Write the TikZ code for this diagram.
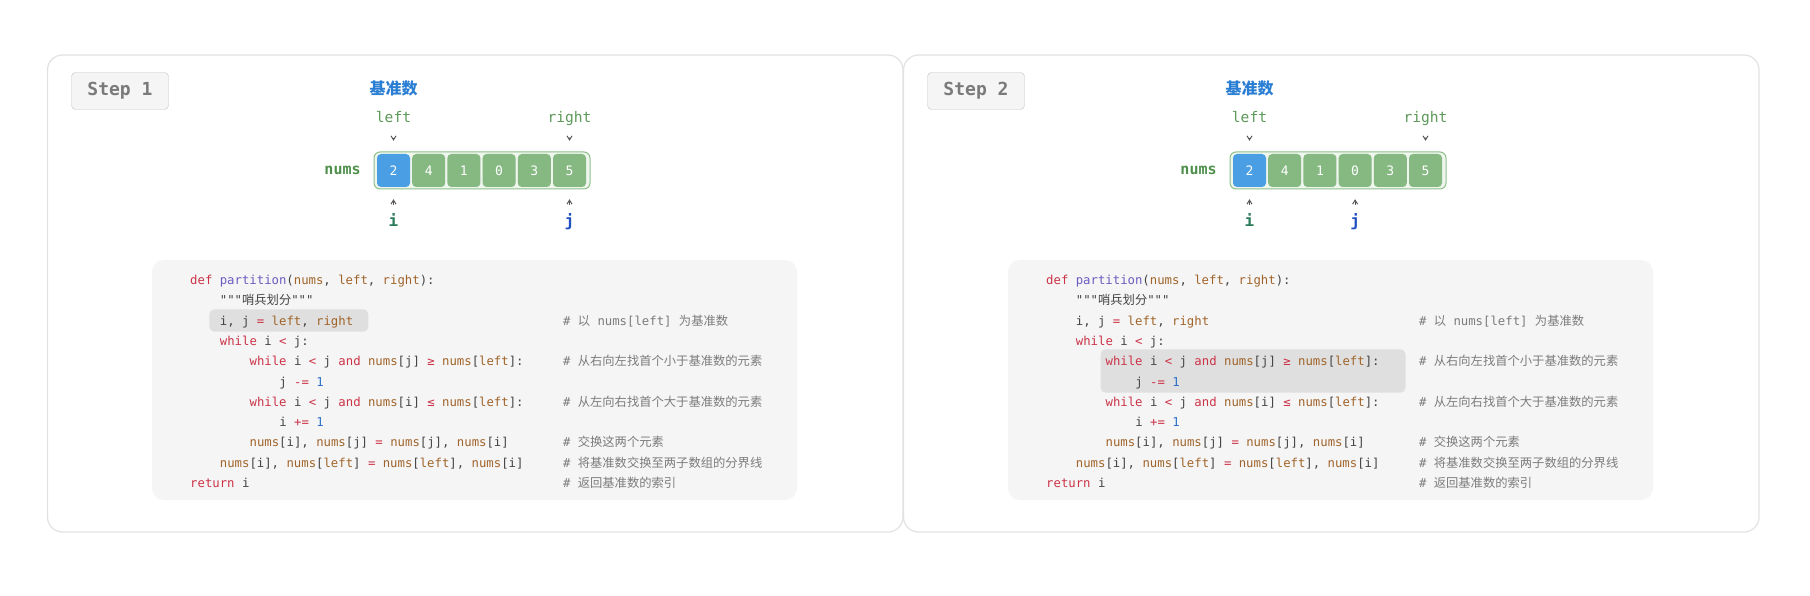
\documentclass[tikz,border=0pt]{standalone}
\usepackage{fontspec}
\setmonofont{DejaVu Sans Mono}
\newfontfamily\cjk{Noto Sans CJK SC}
\usetikzlibrary{arrows.meta, positioning}

\definecolor{panelline}{HTML}{E2E2E2}
\definecolor{codebg}{HTML}{F5F5F5}
\definecolor{hlgray}{HTML}{DFDFDF}
\definecolor{stepline}{HTML}{C4C4C4}
\definecolor{steptxt}{HTML}{7A7A7A}
\definecolor{cellgreen}{HTML}{86B882}
\definecolor{cellblue}{HTML}{4A9FE4}
\definecolor{arrline}{HTML}{8DC089}
\definecolor{arrfill}{HTML}{EEF6ED}
\definecolor{lblgreen}{HTML}{4E8F4B}
\definecolor{ptrgreen}{HTML}{5E9A5A}
\definecolor{pivblue}{HTML}{2A7FD4}
\definecolor{igreen}{HTML}{2E7D5A}
\definecolor{jblue}{HTML}{2150C0}
\definecolor{kwred}{HTML}{CC3348}
\definecolor{fnpurple}{HTML}{6E5AC2}
\definecolor{varbrown}{HTML}{A0642A}
\definecolor{numblue}{HTML}{2C72C8}
\definecolor{codetxt}{HTML}{444444}
\definecolor{cmtgray}{HTML}{7C7C7C}

\newcommand{\ckw}[1]{\textcolor{kwred}{#1}}
\newcommand{\cfn}[1]{\textcolor{fnpurple}{#1}}
\newcommand{\cvar}[1]{\textcolor{varbrown}{#1}}
\newcommand{\cnum}[1]{\textcolor{numblue}{#1}}
\newcommand{\zh}[1]{{\cjk #1}}

\begin{document}
\begin{tikzpicture}[x=1pt, y=-1pt,
    panel/.style={draw=panelline, line width=1.2pt, fill=white, rounded corners=15pt},
    stepbox/.style={draw=stepline, fill=codebg, rounded corners=4pt, minimum width=97pt,
                    minimum height=37pt, text=steptxt, font=\ttfamily\bfseries\fontsize{18}{20}\selectfont},
    cell/.style={fill=cellgreen, rounded corners=4pt, minimum width=33pt, minimum height=33pt,
                 inner sep=0, text=white, font=\ttfamily\fontsize{13}{15}\selectfont},
    arrbox/.style={draw=arrline, fill=arrfill, line width=1pt, rounded corners=6pt},
    ptrlbl/.style={inner sep=0, text height=10pt, text depth=3pt, text=ptrgreen,
                   font=\ttfamily\fontsize{14.6}{16}\selectfont},
    idxlbl/.style={inner sep=0, text height=10pt, text depth=3pt, font=\ttfamily\bfseries\fontsize{16}{18}\selectfont},
    ptr/.style={-{Straight Barb[length=4pt, width=5pt]}, line width=1pt, draw=black!65},
    codeln/.style={anchor=base west, inner sep=0, text=codetxt, font=\ttfamily\fontsize{12.3}{14}\selectfont},
    cmt/.style={codeln, text=cmtgray},
    hl/.style={fill=hlgray, rounded corners=5pt}
]
\fill[white] (0,0) rectangle (1810,596);
\useasboundingbox (0,0) rectangle (1810,596);

% ---- two steps, same layout ----
\foreach \p/\dx/\jc/\ha/\hb/\hc/\hd in {1/0/5/209.3/309.3/368.3/331.7, 2/856/3/244.6/349.3/549.5/392.7} {
\begin{scope}[xshift=\dx]
\draw[panel] (47.5,55) rectangle (903,532);
\node[stepbox] (st\p) at (120,91) {Step \p};

% ---- array ----
\draw[arrbox] (374,152) rectangle (590,189);
\node[cell, fill=cellblue] (c\p-0) at (393.5,170.5) {2};
\foreach \i/\v in {1/4,2/1,3/0,4/3,5/5} {
    \pgfmathsetmacro{\x}{393.5 + \i*35.2}
    \node[cell] (c\p-\i) at (\x,170.5) {\v};
}
\node[inner sep=0, text=lblgreen, font=\ttfamily\bfseries\fontsize{15}{17}\selectfont,
      left=16pt of c\p-0] (nm\p) {nums};
\node[text=pivblue, font=\cjk\bfseries\fontsize{16}{18}\selectfont] (pv\p) at (393.5,88) {基准数};

% ---- pointers ----
\node[ptrlbl] (lf\p) at (393.5,119.5) {left};
\node[ptrlbl] (rt\p) at (569.5,119.5) {right};
\node[idxlbl, text=igreen] (i\p) at (393.5,223) {i};
\pgfmathsetmacro{\jx}{393.5 + \jc*35.2}
\node[idxlbl, text=jblue] (j\p) at (\jx,223) {j};
\draw[ptr, shorten <=11.5pt, shorten >=13pt] (lf\p) -- (c\p-0);
\draw[ptr, shorten <=11.5pt, shorten >=13pt] (rt\p) -- (c\p-5);
\draw[ptr, shorten <=11.5pt, shorten >=12pt] (i\p) -- (c\p-0);
\draw[ptr, shorten <=11.5pt, shorten >=12pt] (j\p) -- (c\p-\jc);

% ---- code ----
\fill[codebg, rounded corners=12pt] (152,260) rectangle (797,500);
\fill[hl] (\ha,\hb) rectangle (\hc,\hd);
\node[codeln] (l\p-1) at (190,284.5) {\ckw{def} \cfn{partition}(\cvar{nums}, \cvar{left}, \cvar{right}):};
\node[codeln] (l\p-2) at (219.7,304.8) {"""\zh{哨兵划分}"""};
\node[codeln] (l\p-3) at (219.7,325.1) {i, j \ckw{=} \cvar{left}, \cvar{right}};
\node[codeln] (l\p-4) at (219.7,345.4) {\ckw{while} i \ckw{<} j:};
\node[codeln] (l\p-5) at (249.4,365.7) {\ckw{while} i \ckw{<} j \ckw{and} \cvar{nums}[j] \ckw{≥} \cvar{nums}[\cvar{left}]:};
\node[codeln] (l\p-6) at (279.1,386.0) {j \ckw{-=} \cnum{1}};
\node[codeln] (l\p-7) at (249.4,406.3) {\ckw{while} i \ckw{<} j \ckw{and} \cvar{nums}[i] \ckw{≤} \cvar{nums}[\cvar{left}]:};
\node[codeln] (l\p-8) at (279.1,426.6) {i \ckw{+=} \cnum{1}};
\node[codeln] (l\p-9) at (249.4,446.9) {\cvar{nums}[i], \cvar{nums}[j] \ckw{=} \cvar{nums}[j], \cvar{nums}[i]};
\node[codeln] (l\p-10) at (219.7,467.2) {\cvar{nums}[i], \cvar{nums}[\cvar{left}] \ckw{=} \cvar{nums}[\cvar{left}], \cvar{nums}[i]};
\node[codeln] (l\p-11) at (190,487.5) {\ckw{return} i};

% comments
\node[cmt] (m\p-3) at (562.8,325.1) {\# \zh{以} nums[left] \zh{为基准数}};
\node[cmt] (m\p-5) at (562.8,365.7) {\# \zh{从右向左找首个小于基准数的元素}};
\node[cmt] (m\p-7) at (562.8,406.3) {\# \zh{从左向右找首个大于基准数的元素}};
\node[cmt] (m\p-9) at (562.8,446.9) {\# \zh{交换这两个元素}};
\node[cmt] (m\p-10) at (562.8,467.2) {\# \zh{将基准数交换至两子数组的分界线}};
\node[cmt] (m\p-11) at (562.8,487.5) {\# \zh{返回基准数的索引}};
\end{scope}
}

\end{tikzpicture}
\end{document}
